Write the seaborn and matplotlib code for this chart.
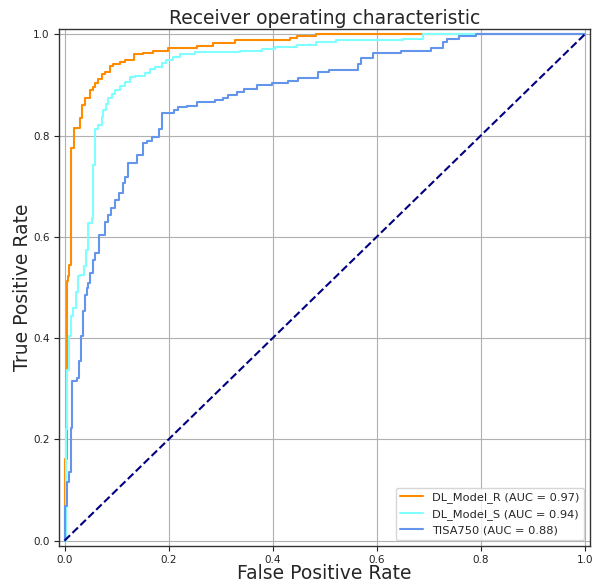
import numpy as np
import pandas as pd
import matplotlib
matplotlib.use("Agg")
import matplotlib.pyplot as plt
import seaborn as sns

# ROC vertices (FPR, TPR after the vertical step)
model_r_fpr = [0.0, 0.0, 0.005, 0.007, 0.009, 0.0128, 0.0173, 0.030, 0.033, 0.040, 0.049,
               0.054, 0.059, 0.065, 0.072, 0.078, 0.088, 0.094, 0.107, 0.116, 0.134,
               0.151, 0.171, 0.199, 0.254, 0.286, 0.327, 0.433, 0.446, 0.484, 1.0]
model_r_tpr = [0.0, 0.161, 0.512, 0.522, 0.545, 0.776, 0.816, 0.834, 0.860, 0.875, 0.890,
               0.896, 0.903, 0.911, 0.921, 0.926, 0.937, 0.941, 0.946, 0.950, 0.961,
               0.964, 0.967, 0.974, 0.978, 0.983, 0.988, 0.992, 0.996, 1.0, 1.0]

model_s_fpr = [0.0, 0.002, 0.0046, 0.009, 0.0128, 0.017, 0.022, 0.026, 0.030, 0.038, 0.042,
               0.046, 0.052, 0.054, 0.059, 0.065, 0.072, 0.074, 0.079, 0.084, 0.091,
               0.097, 0.107, 0.116, 0.126, 0.136, 0.155, 0.164, 0.174, 0.187, 0.196,
               0.209, 0.222, 0.251, 0.337, 0.379, 0.404, 0.446, 0.484, 0.522, 0.650,
               0.689, 1.0]
model_s_tpr = [0.0, 0.22, 0.338, 0.404, 0.443, 0.460, 0.492, 0.522, 0.525, 0.542, 0.575,
               0.627, 0.637, 0.742, 0.814, 0.821, 0.837, 0.850, 0.863, 0.875, 0.883,
               0.890, 0.898, 0.906, 0.915, 0.917, 0.924, 0.932, 0.936, 0.943, 0.950,
               0.955, 0.961, 0.965, 0.968, 0.972, 0.976, 0.980, 0.985, 0.988, 0.991,
               1.0, 1.0]

tisa_fpr = [0.0, 0.0, 0.0046, 0.009, 0.013, 0.015, 0.024, 0.028, 0.032, 0.036, 0.040,
            0.043, 0.046, 0.049, 0.054, 0.059, 0.067, 0.077, 0.084, 0.090, 0.097,
            0.104, 0.113, 0.116, 0.122, 0.139, 0.151, 0.158, 0.168, 0.182, 0.187,
            0.211, 0.219, 0.235, 0.254, 0.289, 0.305, 0.315, 0.331, 0.345, 0.369,
            0.398, 0.430, 0.449, 0.487, 0.509, 0.564, 0.570, 0.593, 0.647, 0.705,
            0.727, 0.736, 0.759, 0.791, 1.0]
tisa_tpr = [0.0, 0.069, 0.116, 0.135, 0.223, 0.315, 0.322, 0.355, 0.404, 0.453, 0.486,
            0.499, 0.509, 0.529, 0.555, 0.569, 0.604, 0.630, 0.643, 0.657, 0.673,
            0.686, 0.706, 0.719, 0.745, 0.762, 0.785, 0.790, 0.798, 0.814, 0.844,
            0.850, 0.856, 0.858, 0.867, 0.871, 0.875, 0.880, 0.886, 0.893, 0.900,
            0.903, 0.908, 0.913, 0.926, 0.930, 0.941, 0.954, 0.964, 0.968, 0.974,
            0.985, 0.991, 0.996, 1.0, 1.0]

model_names = ["DL_Model_R", "DL_Model_S", "TISA750"]
auc_values = [0.97, 0.94, 0.88]
line_colors = ["darkorange", "#7fffff", "cornflowerblue"]
chance_x = [0.0, 1.0]
chance_y = [0.0, 1.0]
tick_values = [0.0, 0.2, 0.4, 0.6, 0.8, 1.0]

sns.set_style("ticks")
plt.rcParams['font.family'] = ['DejaVu Sans']

fig = plt.figure(figsize=(5.95, 5.84), dpi=100)
ax = fig.add_axes([0.0997, 0.0656, 0.8919, 0.8842])

curves = [(model_r_fpr, model_r_tpr), (model_s_fpr, model_s_tpr), (tisa_fpr, tisa_tpr)]
for (fx, ty), name, auc, col in zip(curves, model_names, auc_values, line_colors):
    df = pd.DataFrame({"fpr": fx, "tpr": ty})
    sns.lineplot(data=df, x="fpr", y="tpr", sort=False, estimator=None, ax=ax,
                 color=col, lw=1.5, drawstyle="steps-post",
                 label=f"{name} (AUC = {auc:.2f})")

sns.lineplot(x=chance_x, y=chance_y, ax=ax, color="navy", lw=1.5,
             linestyle="--", estimator=None, sort=False)

ax.set_xlim(-0.01, 1.01)
ax.set_ylim(-0.01, 1.01)
ax.set_xticks(tick_values)
ax.set_yticks(tick_values)
ax.tick_params(labelsize=7.5, length=3.5, width=0.8, colors="#222222")
ax.grid(True, color="#b0b0b0", lw=0.8)
for s in ax.spines.values():
    s.set_color("#333333")
    s.set_linewidth(1.0)
ax.set_xlabel("False Positive Rate", fontsize=13.5, labelpad=-1)
ax.set_ylabel("True Positive Rate", fontsize=13.5, labelpad=1)
ax.set_title("Receiver operating characteristic", fontsize=13.5, pad=4)
ax.legend(loc="lower right", fontsize=8.2, frameon=True)

fig.savefig("out.png", dpi=100)
